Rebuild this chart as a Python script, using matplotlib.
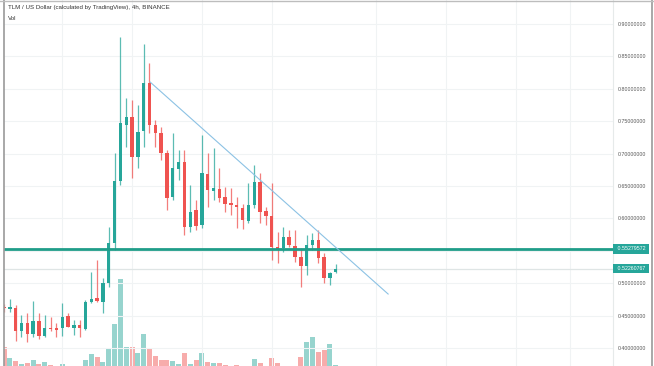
import numpy as np
import matplotlib
matplotlib.use("Agg")
import matplotlib.pyplot as plt
import matplotlib.transforms as mtransforms

# 4h candles, TLM/USD
opens = [0.4633, 0.4606, 0.4622, 0.4262, 0.4386, 0.4216, 0.4417, 0.4185, 0.4304, 0.4304,
         0.4304, 0.4494, 0.4314, 0.4355, 0.4293, 0.4715, 0.4767, 0.4715, 0.5008, 0.5616,
         0.6582, 0.7441, 0.7560, 0.6952, 0.7349, 0.8085, 0.7441, 0.7313, 0.7005, 0.6335,
         0.6758, 0.6866, 0.5872, 0.6130, 0.5898, 0.6685, 0.6428, 0.6449, 0.6326, 0.6233,
         0.6202, 0.6156, 0.5965, 0.6207, 0.6566, 0.6114, 0.6037, 0.5563, 0.5539, 0.5718,
         0.5574, 0.5409, 0.5266, 0.5590, 0.5667, 0.5409, 0.5076, 0.5168]
highs = [0.4679, 0.4756, 0.4664, 0.4509, 0.4540, 0.4730, 0.4540, 0.4509, 0.4483, 0.4381,
         0.4699, 0.4536, 0.4432, 0.4432, 0.4741, 0.5178, 0.5358, 0.5080, 0.5872, 0.7009,
         0.8804, 0.7858, 0.7827, 0.7750, 0.8691, 0.8394, 0.7519, 0.7415, 0.7056, 0.7318,
         0.7056, 0.7056, 0.6516, 0.6284, 0.7287, 0.7005, 0.7087, 0.6773, 0.6480, 0.6465,
         0.6335, 0.6222, 0.6542, 0.6824, 0.6701, 0.6181, 0.6542, 0.5795, 0.5863, 0.5821,
         0.5821, 0.5539, 0.5744, 0.5770, 0.5821, 0.5466, 0.5178, 0.5296]
lows = [0.4556, 0.4556, 0.4108, 0.4170, 0.4097, 0.4175, 0.4139, 0.4175, 0.4267, 0.4175,
        0.4185, 0.4320, 0.4201, 0.4175, 0.4278, 0.4700, 0.4715, 0.4540, 0.4946, 0.5512,
        0.6516, 0.7107, 0.6623, 0.6778, 0.7107, 0.7318, 0.7107, 0.6901, 0.6130, 0.6284,
        0.6593, 0.5744, 0.5795, 0.5821, 0.5852, 0.6181, 0.6284, 0.6258, 0.6103, 0.6053,
        0.5847, 0.5832, 0.5925, 0.6160, 0.5929, 0.5898, 0.5358, 0.5307, 0.5486, 0.5563,
        0.5332, 0.4946, 0.5127, 0.5512, 0.5307, 0.4999, 0.4972, 0.5153]
closes = [0.4610, 0.4637, 0.4262, 0.4391, 0.4216, 0.4417, 0.4185, 0.4309, 0.4289, 0.4278,
          0.4483, 0.4329, 0.4355, 0.4304, 0.4705, 0.4752, 0.4730, 0.5008, 0.5616, 0.6582,
          0.7468, 0.7560, 0.6952, 0.7338, 0.8085, 0.7441, 0.7313, 0.7005, 0.6310, 0.6773,
          0.6866, 0.5863, 0.6103, 0.5883, 0.6696, 0.6438, 0.6474, 0.6310, 0.6218, 0.6202,
          0.6172, 0.5975, 0.6207, 0.6566, 0.6103, 0.6037, 0.5563, 0.5532, 0.5718, 0.5590,
          0.5409, 0.5266, 0.5590, 0.5667, 0.5384, 0.5076, 0.5153, 0.5226]
volumes = [1.93, 0.77, 0.50, 0.17, 0.27, 0.60, 0.17, 0.37, 0.10, 0.05,
           0.20, 0.05, 0.05, 0.05, 0.60, 1.17, 0.87, 0.43, 1.67, 4.20,
           8.67, 1.93, 1.93, 1.33, 3.17, 1.67, 1.00, 0.60, 0.60, 0.50,
           0.20, 1.27, 0.20, 0.60, 1.27, 0.43, 0.33, 0.27, 0.10, 0.05,
           0.10, 0.05, 0.05, 0.70, 0.33, 0.05, 0.77, 0.33, 0.05, 0.05,
           0.05, 0.93, 2.37, 2.87, 1.37, 1.60, 2.20, 0.10]

grid_prices = [0.40, 0.45, 0.50, 0.55, 0.60, 0.65, 0.70, 0.75, 0.80, 0.85, 0.90]
label_prices = [0.40, 0.45, 0.50, 0.60, 0.65, 0.70, 0.75, 0.80, 0.85, 0.90]
support_level = 0.55279572
last_price = 0.52260767
trend_x = [25.1, 66.0]
trend_y = [0.8105, 0.4833]
title = "TLM / US Dollar (calculated by TradingView), 4h, BINANCE"

GREEN = "#26a69a"
RED = "#ef5350"

W, H = 654, 366
fig = plt.figure(figsize=(W / 100, H / 100), dpi=100)
rect = [4 / W, 0, 609 / W, 1]

n = len(opens)
x = np.arange(n)
up = np.array(closes) >= np.array(opens)
cols = np.where(up, GREEN, RED)

# volume pane underneath
axv = fig.add_axes(rect)
axv.bar(x, volumes, width=0.86, color=cols, alpha=0.48, linewidth=0)
axv.set_ylim(0, 36.6)
axv.set_xlim(0, 104.64)
axv.axis("off")

ax = fig.add_axes(rect, sharex=axv)
ax.patch.set_visible(False)
ax.set_ylim(0.37222, 0.93704)

for xv in [10, 22, 34, 46, 64, 76, 88, 97.3]:
    ax.axvline(xv, color="#f0f3f4", lw=0.8, zorder=0)
for p in grid_prices:
    ax.axhline(p, color="#f0f3f4", lw=0.8, zorder=0)

ax.vlines(x, lows, highs, colors=cols, lw=0.9, alpha=0.75, zorder=2)
body_lo = np.minimum(opens, closes)
body_h = np.maximum(np.abs(np.array(closes) - np.array(opens)), 0.0025)
ax.bar(x, body_h, bottom=body_lo, width=0.58, color=cols, linewidth=0, zorder=3)

ax.axhline(last_price, color="#dfe5e5", lw=0.9, zorder=1)
ax.axhline(support_level, color="#1f9d89", lw=2.0, zorder=4)
ax.plot(trend_x, trend_y, color="#8cc2e4", lw=0.8, zorder=5)

for s in ["left", "top", "bottom"]:
    ax.spines[s].set_visible(False)
ax.spines["right"].set_color("#e6eaea")
ax.spines["right"].set_linewidth(0.8)
ax.tick_params(axis="x", bottom=False, labelbottom=False)
ax.yaxis.tick_right()
ax.set_yticks(label_prices)
ax.set_yticklabels([f"{p:.8f}" for p in label_prices])
ax.tick_params(axis="y", length=0, pad=3.2, labelsize=3.8, labelcolor="#555555")
for t in ax.get_yticklabels():
    t.set_fontfamily("Liberation Sans")

trans = mtransforms.blended_transform_factory(ax.transAxes, ax.transData)
for val in [support_level, last_price]:
    ax.text(1.0 + 2.5 / 609, val, f" {val:.8f} ", transform=trans, ha="left", va="center",
            fontsize=3.8, color="white", family="Liberation Sans", zorder=6,
            bbox=dict(boxstyle="square,pad=0.45", fc=GREEN, ec="none"))

fig.text(8 / W, 1 - 8 / H, title, fontsize=4.4, color="#333333",
         family="Liberation Sans", va="center", ha="left")
fig.text(8 / W, 1 - 18 / H, "Vol", fontsize=4.4, color="#333333",
         family="Liberation Sans", va="center", ha="left")

# outer frame of the screenshot
fig.add_artist(plt.Line2D([3.5 / W, 3.5 / W], [0, 1], color="#9a9a9a", lw=1.2))
fig.add_artist(plt.Line2D([652 / W, 652 / W], [0, 1], color="#9a9a9a", lw=1.2))
fig.add_artist(plt.Line2D([0, 1], [1 - 0.6 / H, 1 - 0.6 / H], color="#bdbdbd", lw=1.0))

fig.savefig("out.png", dpi=100)
